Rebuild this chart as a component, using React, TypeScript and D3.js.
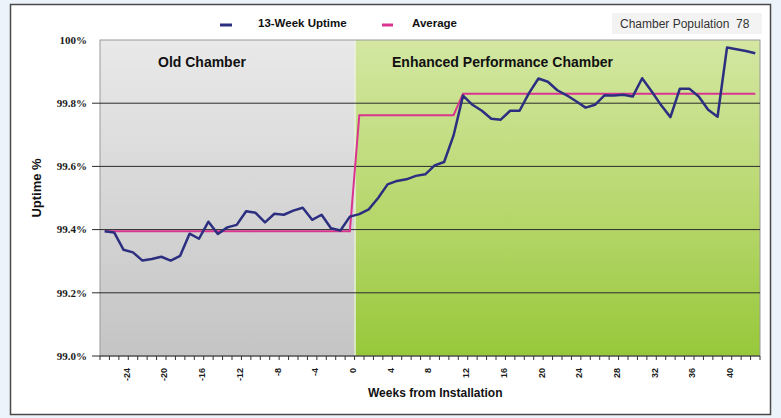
import React from "react";
import * as d3 from "d3";

// Weeks relative to installation of the enhanced chamber
const weeks = [
  -26, -25, -24, -23, -22, -21, -20, -19, -18, -17, -16, -15, -14, -13, -12, -11,
  -10, -9, -8, -7, -6, -5, -4, -3, -2, -1, 0, 1, 2, 3, 4, 5, 6, 7, 8, 9, 10, 11,
  12, 13, 14, 15, 16, 17, 18, 19, 20, 21, 22, 23, 24, 25, 26, 27, 28, 29, 30, 31,
  32, 33, 34, 35, 36, 37, 38, 39, 40, 41, 42, 43,
];

// Rolling 13-week uptime (%)
const uptime = [
  99.395, 99.391, 99.336, 99.328, 99.302, 99.307, 99.314, 99.302, 99.317, 99.387,
  99.371, 99.425, 99.386, 99.407, 99.415, 99.458, 99.453, 99.423, 99.45, 99.447,
  99.46, 99.469, 99.431, 99.447, 99.404, 99.397, 99.441, 99.449, 99.464, 99.5,
  99.543, 99.554, 99.559, 99.57, 99.575, 99.603, 99.614, 99.698, 99.824, 99.795,
  99.776, 99.751, 99.748, 99.776, 99.776, 99.832, 99.878, 99.868, 99.841, 99.825,
  99.806, 99.786, 99.795, 99.825, 99.824, 99.827, 99.821, 99.879, 99.838, 99.794,
  99.756, 99.846, 99.846, 99.821, 99.779, 99.757, 99.976, 99.971, 99.965, 99.958,
];

// Period average (%)
const average = [
  99.395, 99.395, 99.395, 99.395, 99.395, 99.395, 99.395, 99.395, 99.395, 99.395,
  99.395, 99.395, 99.395, 99.395, 99.395, 99.395, 99.395, 99.395, 99.395, 99.395,
  99.395, 99.395, 99.395, 99.395, 99.395, 99.395, 99.395, 99.762, 99.762, 99.762,
  99.762, 99.762, 99.762, 99.762, 99.762, 99.762, 99.762, 99.762, 99.83, 99.83,
  99.83, 99.83, 99.83, 99.83, 99.83, 99.83, 99.83, 99.83, 99.83, 99.83,
  99.83, 99.83, 99.83, 99.83, 99.83, 99.83, 99.83, 99.83, 99.83, 99.83,
  99.83, 99.83, 99.83, 99.83, 99.83, 99.83, 99.83, 99.83, 99.83, 99.83,
];

const yTicks = [99.0, 99.2, 99.4, 99.6, 99.8, 100];
const yTickLabels = ["99.0%", "99.2%", "99.4%", "99.6%", "99.8%", "100%"];
const xTickWeeks = [-24, -20, -16, -12, -8, -4, 0, 4, 8, 12, 16, 20, 24, 28, 32, 36, 40];

const W = 781;
const H = 418;
const plot = { left: 100, right: 760, top: 40, bottom: 356 };

const sans = "'Liberation Sans', Arial, sans-serif";
const serif = "'Liberation Serif', 'Times New Roman', serif";

export default function App() {
  const x = d3
    .scaleLinear()
    .domain([weeks[0] - 0.5, weeks[weeks.length - 1] + 0.5])
    .range([plot.left, plot.right]);
  const y = d3.scaleLinear().domain([99, 100]).range([plot.bottom, plot.top]);

  const seriesLine = d3
    .line<number>()
    .x((_, i) => x(weeks[i]))
    .y((d) => y(d));

  const split = x(0.5);
  const boundaries = [weeks[0] - 1, ...weeks].map((w) => x(w + 0.5));
  const plotW = plot.right - plot.left;
  const plotH = plot.bottom - plot.top;

  return (
    <div style={{ position: "absolute", left: 0, top: 0 }}>
      <svg width={W} height={H} style={{ display: "block" }}>
        <defs>
          <linearGradient id="oldBg" x1="0" y1="0" x2="0" y2="1">
            <stop offset="0%" stopColor="#e9e9e9" />
            <stop offset="100%" stopColor="#c4c4c4" />
          </linearGradient>
          <linearGradient id="newBg" x1="0" y1="0" x2="0" y2="1">
            <stop offset="0%" stopColor="#d3e7a2" />
            <stop offset="55%" stopColor="#b7d76c" />
            <stop offset="100%" stopColor="#97c83a" />
          </linearGradient>
        </defs>

        <rect x={0} y={0} width={W} height={H} fill="#edf3fa" />
        <rect x={10.5} y={4.5} width={760} height={410} fill="#ffffff" stroke="#4a4a4a" strokeWidth={1.5} />

        {/* period backgrounds */}
        <rect x={plot.left} y={plot.top} width={split - plot.left} height={plotH} fill="url(#oldBg)" />
        <rect x={split} y={plot.top} width={plot.right - split} height={plotH} fill="url(#newBg)" />
        <line x1={split + 0.5} x2={split + 0.5} y1={plot.top} y2={plot.bottom} stroke="#f4f4f4" strokeWidth={1.5} opacity={0.8} />
        <rect x={plot.left} y={plot.top} width={plotW} height={plotH} fill="none" stroke="#9a9a9a" strokeWidth={1} />

        {/* gridlines and y ticks */}
        {yTicks.map((t, i) => (
          <g key={t}>
            {t < 100 && (
              <line x1={plot.left - 8} x2={plot.right} y1={y(t)} y2={y(t)} stroke="#2b2b2b" strokeWidth={1} />
            )}
            <text
              x={87}
              y={y(t)}
              dy="0.35em"
              textAnchor="end"
              fontFamily={serif}
              fontWeight="bold"
              fontSize={11}
              fill="#1a1a1a"
            >
              {yTickLabels[i]}
            </text>
          </g>
        ))}

        {/* x axis ticks */}
        {boundaries.map((bx, i) => (
          <line key={i} x1={bx} x2={bx} y1={plot.bottom} y2={plot.bottom + 4} stroke="#333" strokeWidth={1} />
        ))}
        {xTickWeeks.map((w) => (
          <text
            key={w}
            transform={`translate(${x(w) + 3},368) rotate(-90)`}
            dy="0.35em"
            textAnchor="end"
            fontFamily={sans}
            fontWeight="bold"
            fontSize={9}
            fill="#1a1a1a"
          >
            {w}
          </text>
        ))}

        {/* series */}
        <path d={seriesLine(average) ?? ""} fill="none" stroke="#d9348f" strokeWidth={2} />
        <path d={seriesLine(uptime) ?? ""} fill="none" stroke="#2c2f80" strokeWidth={2.5} strokeLinejoin="round" />

        {/* region labels */}
        <text x={158} y={67} fontFamily={sans} fontWeight="bold" fontSize={14} fill="#111">
          Old Chamber
        </text>
        <text x={392} y={67} fontFamily={sans} fontWeight="bold" fontSize={14} fill="#111">
          Enhanced Performance Chamber
        </text>

        {/* legend */}
        <rect x={612} y={13} width={150} height={21} fill="#f3f3f3" />
        <line x1={220} x2={232} y1={25} y2={25} stroke="#2c2f80" strokeWidth={3} />
        <text x={258} y={27} fontFamily={sans} fontWeight="bold" fontSize={11.5} fill="#111">
          13-Week Uptime
        </text>
        <line x1={382} x2={393} y1={25} y2={25} stroke="#d9348f" strokeWidth={3} />
        <text x={412} y={27} fontFamily={sans} fontWeight="bold" fontSize={11.5} fill="#111">
          Average
        </text>
        <text x={620} y={28} fontFamily={sans} fontSize={12} fill="#333" style={{ whiteSpace: "pre" }}>
          {"Chamber Population  78"}
        </text>

        {/* axis titles */}
        <text
          transform="translate(36,188) rotate(-90)"
          dy="0.35em"
          textAnchor="middle"
          fontFamily={sans}
          fontWeight="bold"
          fontSize={13}
          fill="#111"
        >
          Uptime %
        </text>
        <text x={368} y={397} fontFamily={sans} fontWeight="bold" fontSize={12} fill="#111">
          Weeks from Installation
        </text>
      </svg>
    </div>
  );
}
